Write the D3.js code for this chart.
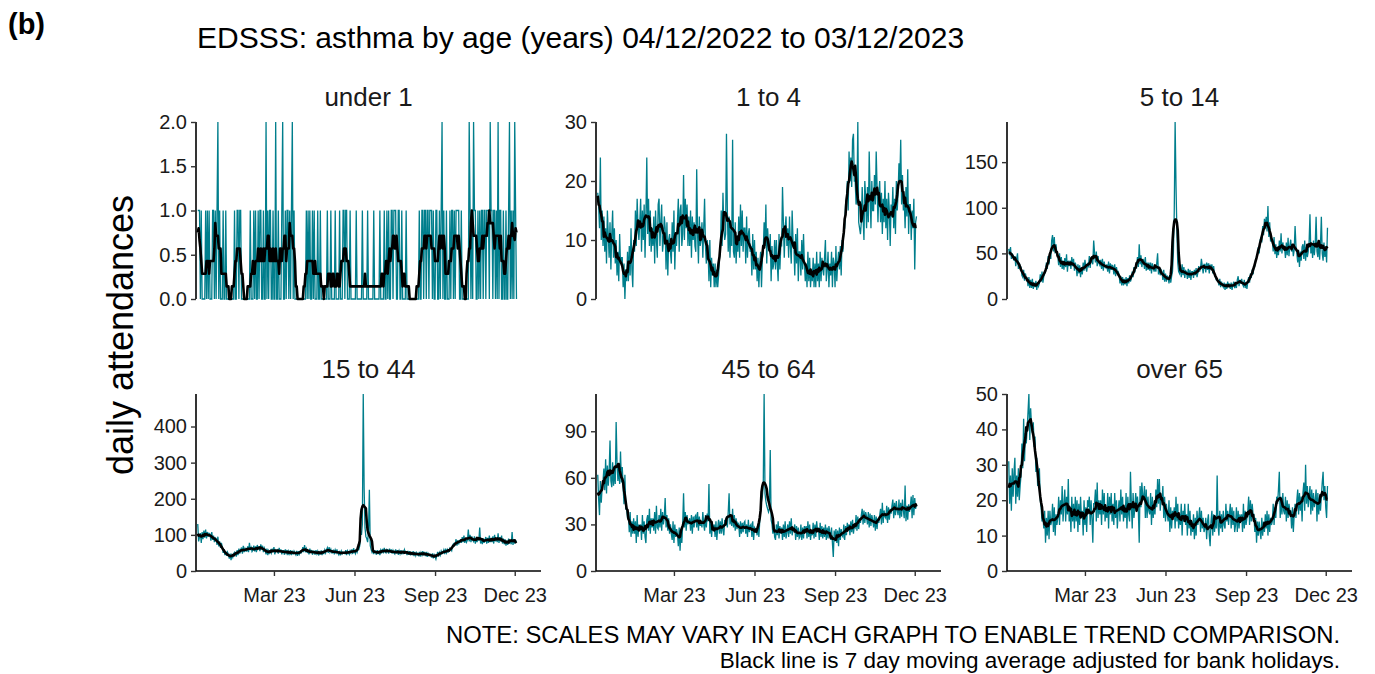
<!DOCTYPE html>
<html>
<head>
<meta charset="utf-8">
<script src="https://cdn.jsdelivr.net/npm/d3@7"></script>
<style>
  body { margin: 0; background: #fff; }
  text { font-family: "Liberation Sans", Arial, sans-serif; }
</style>
</head>
<body>
<svg id="chart" width="1375" height="674"></svg>
<script>
// daily counts from 04/12/2022
var firstDay = new Date(2022, 11, 4);

var panelNames = ["under 1", "1 to 4", "5 to 14", "15 to 44", "45 to 64", "over 65"];

// ten days per row
var under1 = [
  1,1,1,0,1,0,0,0,0,1,  0,1,0,1,0,0,0,1,1,0,  1,0,1,2,0,1,0,0,0,1,  0,0,1,0,0,0,0,0,0,0,
  0,0,1,0,0,1,1,0,1,1,  0,0,0,0,0,0,0,0,0,0,  1,0,0,0,1,0,1,0,0,1,  0,1,1,0,0,1,0,0,2,0,
  1,0,1,1,0,0,1,0,0,2,  0,0,1,0,0,0,1,2,0,0,  1,0,1,1,0,1,0,1,2,0,  1,0,0,0,0,0,0,0,0,0,
  0,0,0,0,1,0,1,0,1,0,  0,1,0,1,0,0,0,1,0,0,  1,0,0,0,0,0,0,0,1,0,  0,0,1,0,0,0,0,1,0,0,
  0,0,1,0,0,0,1,1,0,1,  1,0,0,0,1,0,0,0,0,0,  0,1,0,0,0,0,0,0,1,0,  0,0,0,0,1,0,0,0,0,0,
  0,1,0,0,0,0,0,0,1,0,  0,0,0,1,0,0,1,0,1,0,  0,1,1,0,1,1,1,0,0,1,  1,0,0,1,0,0,0,0,1,0,
  0,0,0,0,0,0,0,0,0,0,  0,0,0,1,0,0,1,1,0,1,  1,0,1,1,0,1,1,1,0,1,  0,0,1,1,0,0,1,0,1,2,
  0,1,0,0,1,0,0,0,1,0,  1,1,0,1,0,1,1,1,1,0,  0,1,0,0,0,0,0,0,0,0,  2,1,0,1,0,2,1,1,0,0,
  1,0,1,0,1,1,0,1,1,0,  1,1,1,0,2,1,1,0,1,1,  0,1,0,2,0,1,1,0,0,1,  0,0,1,0,0,1,2,0,1,0,
  1,0,2,1,0
];

// seven days (one week) per group
var age1to4 = [
  18,16,12,24,10,15,9,  14,8,12,6,15,11,7,  13,5,11,15,7,12,6,  10,4,8,3,11,6,7,
  7,2,6,0,5,3,8,  3,9,4,12,5,2,10,  8,15,9,17,12,10,13,  17,8,15,10,16,7,14,
  24,11,17,9,15,8,12,  9,14,6,15,10,7,16,  17,9,13,16,8,10,14,  12,5,13,4,10,11,8,
  6,13,8,15,5,11,9,  13,17,8,15,16,9,11,  21,10,17,12,16,9,14,  9,15,7,14,10,13,9,
  8,22,11,6,14,9,10,  13,7,12,17,9,6,10,  8,3,10,2,7,4,6,  2,6,2,5,2,4,7,
  8,15,9,18,12,10,11,  28,15,8,14,7,12,9,  27,8,7,13,6,10,8,  14,7,16,9,15,8,12,
  12,6,14,7,11,12,8,  9,4,11,5,10,5,8,  3,7,2,6,8,2,7,  8,13,9,16,6,12,9,
  8,11,3,9,5,6,10,  5,10,6,3,11,5,9,  9,19,13,7,12,14,9,  12,7,14,9,6,15,10,
  9,4,11,6,12,3,8,  8,4,10,5,11,6,3,  6,2,8,3,7,2,5,  3,7,2,6,2,8,3,
  6,2,8,3,7,5,4,  7,10,3,5,8,2,6,  4,8,2,7,6,2,9,  3,6,8,5,9,4,10,
  8,12,12,16,17,20,15,  25,20,24,19,27,28,20,  20,16,17,30,13,12,11,  13,19,14,10,20,17,12,
  19,13,25,18,12,20,15,  15,21,16,25,19,13,18,  20,13,18,11,17,13,20,  12,17,10,18,15,9,16,
  14,19,12,17,11,20,15,  18,23,20,27,16,21,15,  17,12,19,14,22,11,16,  16,10,15,12,17,5,13,
  14
];

var age5to14 = [
  55,48,57,44,50,47,42,  47,36,44,50,33,40,35,  35,26,24,32,20,28,23,  22,14,24,12,21,12,22,
  11,18,13,20,10,18,14,  17,27,19,30,18,25,28,  30,40,33,47,38,50,44,  64,70,52,68,50,60,48,
  47,37,50,35,46,33,42,  32,45,35,49,30,42,36,  42,33,46,36,44,31,40,  35,25,38,28,37,24,35,
  27,40,31,43,35,30,38,  36,47,34,46,41,38,64,  50,40,52,36,47,39,37,  43,33,44,31,41,35,34,
  38,30,41,28,39,32,37,  36,27,38,25,35,29,30,  27,17,25,15,24,15,22,  16,24,14,23,17,26,19,
  22,30,24,35,29,37,35,  46,35,60,38,48,35,42,  43,33,46,31,40,32,40,  31,40,28,39,34,30,36,
  30,39,50,27,35,26,32,  30,21,32,19,28,19,25,  24,17,26,18,25,30,50,  95,194,125,75,40,30,28,
  35,24,38,26,35,23,31,  30,22,33,23,32,21,30,  30,23,32,26,34,24,29,  36,30,34,44,36,28,38,
  38,29,40,32,39,28,37,  35,38,28,36,26,24,21,  21,20,15,22,13,19,15,  13,18,10,17,11,19,13,
  17,11,18,10,16,19,12,  18,12,21,25,14,21,17,  22,16,14,21,12,18,11,  19,24,18,28,23,32,27,
  35,36,44,46,48,57,50,  64,68,62,80,70,88,78,  90,74,102,68,84,63,66,  64,52,68,49,60,45,55,
  48,64,52,72,50,62,55,  56,45,62,48,67,47,58,  65,52,60,47,54,80,58,  50,40,54,35,52,42,57,
  60,44,64,42,57,46,52,  62,93,50,60,45,64,48,  60,90,52,46,64,43,60,  90,50,42,62,46,58,40,
  78
];

var age15to44 = [
  130,82,95,105,78,108,88,  112,92,115,90,108,95,104,  102,84,108,86,98,80,92,  90,72,95,68,82,64,78,
  66,50,60,44,54,42,52,  46,34,48,30,44,38,48,  52,48,40,58,44,62,48,  58,65,48,70,52,62,55,
  55,68,52,78,58,65,54,  58,70,54,68,52,72,60,  68,55,74,60,70,52,64,  58,46,62,44,56,50,57,
  50,62,52,66,46,58,55,  58,48,64,52,60,46,56,  56,45,60,50,58,44,55,  48,58,44,56,46,55,50,
  45,56,42,55,47,54,50,  54,66,52,72,56,62,50,  58,46,62,50,58,45,55,  55,45,58,48,55,43,52,
  48,57,44,56,47,58,50,  58,64,50,66,53,60,50,  50,59,46,58,51,60,49,  45,56,43,55,48,52,50,
  48,58,44,56,51,46,56,  50,60,47,63,53,48,60,  52,61,60,70,110,100,130,  490,230,120,95,90,80,110,
  225,70,60,52,61,47,56,  55,45,58,47,56,44,58,  52,61,49,64,53,50,60,  58,48,62,51,60,48,57,
  50,47,60,49,58,45,56,  48,58,46,56,47,59,52,  52,44,56,45,55,43,53,  44,55,41,53,43,51,45,
  43,53,40,51,44,55,46,  50,41,53,39,49,43,47,  46,37,49,35,45,40,33,  43,53,40,51,44,55,48,
  50,58,47,62,51,59,52,  54,63,60,56,70,75,70,  74,88,70,85,74,84,86,  78,94,80,98,78,90,80,
  86,115,82,100,80,96,86,  82,96,76,92,80,94,84,  120,76,90,74,90,78,86,  94,76,92,78,98,80,88,
  80,96,76,100,82,92,80,  104,78,94,82,98,76,90,  74,88,70,84,72,90,76,  86,74,108,72,88,76,84,
  80
];

var age45to64 = [
  62,46,36,58,44,54,58,  66,52,72,50,68,55,64,  84,58,54,70,55,66,56,  96,70,58,68,56,77,57,
  67,54,43,62,40,40,34,  36,25,38,22,32,24,34,  24,32,18,36,22,30,27,  30,20,36,24,32,22,18,
  33,36,26,40,24,34,28,  34,26,38,24,42,28,27,  36,28,40,26,38,30,35,  47,28,36,26,34,24,30,
  24,20,32,18,30,22,27,  24,16,28,13,26,18,30,  50,28,38,26,36,30,32,  34,26,36,24,35,28,35,
  36,28,38,26,35,29,32,  28,38,30,26,36,28,37,  32,56,24,32,22,30,27,  30,22,32,20,28,33,24,
  32,24,34,26,23,33,29,  35,28,38,50,30,36,29,  40,28,36,26,34,27,31,  30,22,32,24,31,25,31,
  32,24,30,22,33,25,29,  30,22,32,20,28,27,27,  23,30,22,32,40,45,48,  55,114,50,45,42,40,38,
  40,78,33,30,24,30,22,  20,30,23,32,21,29,24,  28,20,30,22,32,21,25,  30,22,32,24,34,23,27,
  27,30,20,29,22,28,21,  22,30,20,28,21,29,25,  29,21,32,22,30,20,26,  23,31,21,30,22,32,26,
  28,20,31,22,29,21,28,  22,30,20,28,21,29,25,  20,28,18,9,26,19,27,  18,26,16,28,20,27,23,
  22,30,20,29,23,31,26,  30,23,32,25,33,24,29,  28,36,26,35,27,34,31,  36,40,30,39,31,38,35,
  30,38,28,37,29,36,33,  28,36,26,35,27,34,31,  36,40,30,44,31,39,35,  34,42,31,41,33,40,37,
  42,46,34,44,36,45,39,  36,46,34,44,35,46,39,  34,55,32,42,33,43,38,  42,48,34,49,36,47,40,
  43
];

var over65 = [
  31,19,27,17,29,21,28,  32,19,27,21,29,20,24,  27,36,29,43,31,39,36,  40,45,50,37,46,41,39,
  42,35,38,28,32,24,26,  29,20,18,14,16,12,17,  8,15,10,17,9,17,13,  14,19,11,18,10,16,13,
  15,21,13,20,16,24,14,  19,23,14,21,16,26,14,  18,11,21,14,19,12,21,  14,20,11,19,13,21,15,
  17,10,20,13,18,11,20,  18,21,13,20,15,8,19,  19,23,14,25,15,20,16,  20,13,23,16,22,14,18,
  15,22,12,21,16,22,14,  19,13,22,15,20,12,17,  20,14,23,16,21,14,18,  15,22,12,21,16,14,28,
  19,12,22,15,18,22,18,  21,17,8,24,18,25,21,  20,24,15,23,15,21,17,  16,22,13,21,15,19,16,
  23,18,26,19,26,17,21,  20,24,15,21,14,19,16,  14,20,11,18,12,17,15,  18,12,21,14,19,12,16,
  13,19,10,17,14,19,13,  16,10,19,12,17,10,14,  11,16,9,15,10,17,13,  15,18,11,17,12,15,11,
  12,15,9,14,16,10,7,  14,17,10,16,11,15,12,  27,13,10,17,12,16,11,  17,13,12,19,14,17,13,
  16,19,12,18,13,17,11,  13,18,11,17,12,16,14,  16,11,19,12,17,13,15,  17,21,13,20,14,19,16,
  16,11,15,8,14,10,14,  11,9,15,10,14,11,16,  12,17,10,16,11,15,13,  14,19,13,18,15,21,19,
  23,28,15,21,16,22,17,  16,21,14,20,15,19,17,  17,12,18,11,16,19,15,  20,23,16,22,17,21,14,
  22,25,17,30,19,24,18,  21,24,16,23,17,22,18,  20,23,14,22,16,21,17,  21,25,28,20,24,18,15,
  24
];

var yTickValues = [
  [0, 0.5, 1, 1.5, 2],
  [0, 10, 20, 30],
  [0, 50, 100, 150],
  [0, 100, 200, 300, 400],
  [0, 30, 60, 90],
  [0, 10, 20, 30, 40, 50]
];
var xTickDates = [new Date(2023, 2, 1), new Date(2023, 5, 1), new Date(2023, 8, 1), new Date(2023, 11, 1)];
var xTickLabels = ["Mar 23", "Jun 23", "Sep 23", "Dec 23"];

var allSeries = [under1, age1to4, age5to14, age15to44, age45to64, over65];

var teal = "#007e8c";
var svg = d3.select("#chart");

// layout of the 3x2 grid
var colLeft = [196, 596, 1007];
var panelW = 345;
var rowTop = [122, 394];
var panelH = 177;

function movingAverage(vals) {
    var out = [];
    for (var i = 0; i < vals.length; i++) {
        var lo = Math.max(0, i - 3), hi = Math.min(vals.length - 1, i + 3);
        out.push(d3.mean(vals.slice(lo, hi + 1)));
    }
    return out;
}

svg.append("text")
    .attr("x", 8).attr("y", 34)
    .style("font-size", "29px").style("font-weight", "bold")
    .text("(b)");

svg.append("text")
    .attr("x", 197).attr("y", 48)
    .style("font-size", "30px")
    .text("EDSSS: asthma by age (years) 04/12/2022 to 03/12/2023");

svg.append("text")
    .attr("transform", "translate(133,335)rotate(-90)")
    .attr("text-anchor", "middle")
    .style("font-size", "36px")
    .text("daily attendances");

panelNames.forEach(function (name, p) {
    var col = p % 3, row = Math.floor(p / 3);
    var vals = allSeries[p];
    var ox = colLeft[col], oy = rowTop[row];

    var x = d3.scaleTime()
        .domain([new Date(2022, 11, 2), new Date(2023, 11, 31)])
        .range([ox, ox + panelW]);
    var y = d3.scaleLinear()
        .domain([0, d3.max(vals)])
        .range([oy + panelH, oy]);

    var days = vals.map(function (v, i) { return d3.timeDay.offset(firstDay, i); });
    var avg = movingAverage(vals);

    var line = d3.line()
        .x(function (d, i) { return x(days[i]); })
        .y(function (d) { return y(d); });

    var g = svg.append("g");

    g.append("path")
        .datum(vals)
        .attr("fill", "none")
        .attr("stroke", teal)
        .attr("stroke-width", 1.3)
        .attr("d", line);

    g.append("path")
        .datum(avg)
        .attr("fill", "none")
        .attr("stroke", "#000")
        .attr("stroke-width", 2.6)
        .attr("stroke-linejoin", "round")
        .attr("d", line);

    // y axis
    var yAxis = d3.axisLeft(y)
        .tickValues(yTickValues[p])
        .tickSize(5)
        .tickPadding(4)
        .tickFormat(p == 0 ? d3.format(".1f") : d3.format("d"));
    var ya = g.append("g")
        .attr("transform", "translate(" + ox + ",0)")
        .call(yAxis);
    ya.select(".domain").attr("stroke", "#000").attr("stroke-width", 1.6)
        .attr("d", "M0," + y(0) + "V" + y(d3.max(vals)));
    ya.selectAll(".tick line").attr("stroke", "#333").attr("stroke-width", 1.4);
    ya.selectAll(".tick text").style("font-size", "20px").attr("fill", "#1a1a1a")
        .style("font-family", "'Liberation Sans', Arial, sans-serif");

    // x axis only on the bottom row
    if (row == 1) {
        var xAxis = d3.axisBottom(x)
            .tickValues(xTickDates)
            .tickSize(5)
            .tickPadding(12)
            .tickFormat(function (d, i) { return xTickLabels[i]; });
        var xa = g.append("g")
            .attr("transform", "translate(0," + (oy + panelH) + ")")
            .call(xAxis);
        xa.select(".domain").attr("stroke", "#000").attr("stroke-width", 1.6)
            .attr("d", "M" + ox + ",0H" + (ox + panelW));
        xa.selectAll(".tick line").attr("stroke", "#333").attr("stroke-width", 1.4);
        xa.selectAll(".tick text").style("font-size", "20px").attr("fill", "#1a1a1a")
            .style("font-family", "'Liberation Sans', Arial, sans-serif");
    }

    g.append("text")
        .attr("x", ox + panelW / 2)
        .attr("y", oy - 16)
        .attr("text-anchor", "middle")
        .style("font-size", "26px")
        .attr("fill", "#1a1a1a")
        .text(name);
});

svg.append("text")
    .attr("x", 1340).attr("y", 643)
    .attr("text-anchor", "end")
    .style("font-size", "23.8px")
    .text("NOTE: SCALES MAY VARY IN EACH GRAPH TO ENABLE TREND COMPARISON.");

svg.append("text")
    .attr("x", 1340).attr("y", 668)
    .attr("text-anchor", "end")
    .style("font-size", "22.5px")
    .text("Black line is 7 day moving average adjusted for bank holidays.");
</script>
</body>
</html>
